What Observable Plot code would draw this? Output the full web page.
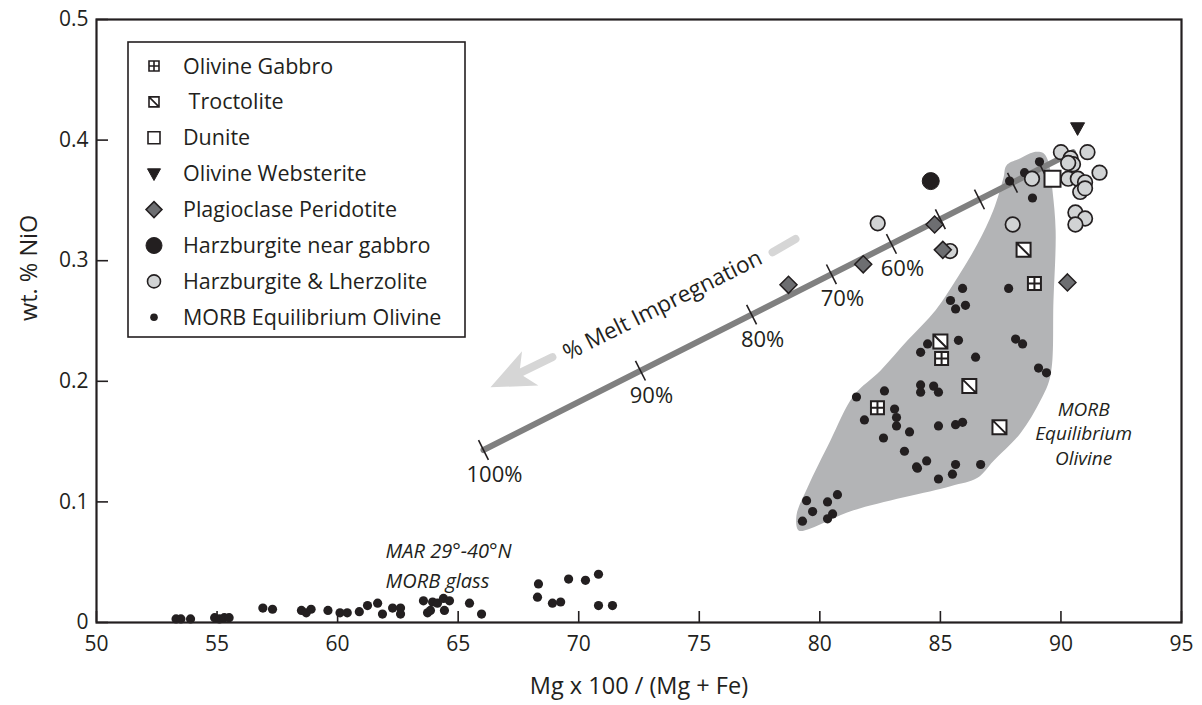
<!DOCTYPE html>
<html><head><meta charset="utf-8">
<script src="https://cdn.jsdelivr.net/npm/d3@7"></script>
<script src="https://cdn.jsdelivr.net/npm/@observablehq/plot@0.6"></script>
<style>
body{margin:0;background:#fff}
#chart{position:relative;width:1202px;height:705px}
</style>
</head><body><div id="chart"></div>
<script>
// ---------- data ----------
const xTicks = [50,55,60,65,70,75,80,85,90,95];
const yTicks = [0,0.1,0.2,0.3,0.4,0.5];

const olivineGabbro = [[88.9,0.281],[85.05,0.219],[82.39,0.178]];
const troctolite = [[88.45,0.309],[85.0,0.233],[86.2,0.196],[87.45,0.162]];
const dunite = [[89.65,0.368]];
const olivineWebsterite = [[90.69,0.410]];
const plagPeridotite = [[78.7,0.280],[81.8,0.297],[84.76,0.330],[85.1,0.309],[90.27,0.282]];
const harzNearGabbro = [[84.6,0.366]];
const harzLherz = [[90.0,0.390],[91.1,0.390],[90.4,0.385],[90.5,0.380],[90.3,0.381],[88.8,0.368],
  [90.3,0.368],[90.7,0.368],[91.6,0.373],[91.0,0.365],[90.8,0.357],[91.0,0.360],[90.6,0.340],
  [91.0,0.335],[90.6,0.330],[88.0,0.330],[82.4,0.331],[85.4,0.308]];
const morbOlivine = [[89.11,0.382],[88.49,0.373],[87.87,0.366],[88.82,0.352],[85.92,0.277],[85.42,0.267],
  [86.04,0.263],[85.63,0.260],[87.83,0.277],[84.47,0.231],[84.18,0.224],[85.75,0.234],[88.12,0.235],
  [88.41,0.231],[86.46,0.220],[89.07,0.211],[89.40,0.207],[81.52,0.187],[82.68,0.192],[84.18,0.197],
  [84.18,0.191],[84.72,0.196],[84.92,0.191],[83.1,0.177],[81.85,0.168],[83.18,0.170],[83.18,0.163],
  [83.72,0.158],[82.64,0.153],[84.92,0.163],[85.63,0.164],[85.92,0.166],[83.51,0.142],[84.01,0.129],
  [84.43,0.134],[84.05,0.128],[85.63,0.131],[85.5,0.123],[84.92,0.119],[86.67,0.131],[79.45,0.101],
  [79.70,0.092],[80.32,0.100],[80.73,0.106],[80.53,0.090],[80.32,0.086],[79.28,0.084]];
const morbGlass = [[53.3,0.003],[53.5,0.003],[53.9,0.003],[54.9,0.004],[55.1,0.003],[55.3,0.004],[55.5,0.004],
  [56.9,0.012],[57.3,0.011],[58.5,0.010],[58.7,0.008],[58.9,0.011],[59.6,0.010],[60.1,0.008],[60.4,0.008],
  [60.9,0.009],[61.24,0.014],[61.66,0.016],[61.86,0.007],[62.28,0.012],[62.61,0.012],[62.61,0.007],
  [63.56,0.018],[63.73,0.008],[63.85,0.010],[63.94,0.017],[64.14,0.016],[64.39,0.020],[64.43,0.010],
  [64.64,0.018],[65.47,0.016],[65.97,0.007],[68.29,0.021],[68.33,0.032],[68.91,0.016],[69.25,0.017],
  [69.58,0.036],[70.28,0.035],[70.82,0.040],[70.82,0.014],[71.4,0.014]];

// MORB equilibrium olivine field outline
const morbField = [[79.12,0.0763],[79.03,0.0887],[79.49,0.112],[80.44,0.151],[81.40,0.188],[82.52,0.209],
  [83.64,0.234],[84.80,0.259],[85.71,0.286],[86.54,0.314],[87.20,0.342],[87.62,0.369],[87.74,0.379],
  [88.32,0.385],[88.86,0.390],[89.28,0.389],[89.49,0.381],[89.65,0.358],[89.78,0.325],[89.69,0.267],
  [89.57,0.205],[89.15,0.184],[88.32,0.157],[87.20,0.134],[86.54,0.120],[85.42,0.113],[81.40,0.093],[79.61,0.078]];

// melt impregnation trend
const meltLine = [[66.05,0.143],[90.5,0.390]];
const meltPct = [100,90,80,70,60,50,40,30,20];
const meltX = [66.05,72.56,77.17,80.48,82.97,85.0,86.62,87.99,89.2];
const meltY = [0.143,0.2088,0.2553,0.2887,0.3139,0.3344,0.3508,0.3646,0.3768];
const meltLabeled = [100,90,80,70,60];
const arrowShaft = [[68.91,0.220],[66.9,0.2005]];
const arrowTip = [[66.34,0.195]];
const arrowDash = [[78.04,0.307],[78.99,0.318]];

const legendLabels = ["Olivine Gabbro"," Troctolite","Dunite","Olivine Websterite","Plagioclase Peridotite",
  "Harzburgite near gabbro","Harzburgite & Lherzolite","MORB Equilibrium Olivine"];

// ---------- symbols ----------
const squarePlus = {draw(c,size){const s=Math.sqrt(size)/2;c.moveTo(-s,-s);c.lineTo(s,-s);c.lineTo(s,s);c.lineTo(-s,s);c.closePath();c.moveTo(0,-s);c.lineTo(0,s);c.moveTo(-s,0);c.lineTo(s,0);}};
const squareDiag = {draw(c,size){const s=Math.sqrt(size)/2;c.moveTo(-s,-s);c.lineTo(s,-s);c.lineTo(s,s);c.lineTo(-s,s);c.closePath();c.moveTo(-s,-s);c.lineTo(s,s);}};
const squareSym = {draw(c,size){const s=Math.sqrt(size)/2;c.moveTo(-s,-s);c.lineTo(s,-s);c.lineTo(s,s);c.lineTo(-s,s);c.closePath();}};
const triDown = {draw(c,size){const s=Math.sqrt(size)/2;c.moveTo(-s,-s*0.75);c.lineTo(s,-s*0.75);c.lineTo(0,s*1.05);c.closePath();}};
const diamondSym = {draw(c,size){const s=Math.sqrt(size)/2;c.moveTo(0,-s);c.lineTo(s,0);c.lineTo(0,s);c.lineTo(-s,0);c.closePath();}};
const tickSym = {draw(c,size){const l=Math.sqrt(size)/2;c.moveTo(0,-l);c.lineTo(0,l);}};
const headSym = {draw(c,size){c.moveTo(0,0);c.lineTo(19,44);c.lineTo(0,32);c.lineTo(-19,44);c.closePath();}};

const ink = "#231f20";
const R = side => side/Math.sqrt(Math.PI); // r giving a square symbol of given side

const styles = [
  {data: olivineGabbro, symbol: squarePlus, fill:"#fff", stroke: ink, sw:2, side:13, lside:10},
  {data: troctolite, symbol: squareDiag, fill:"#fff", stroke: ink, sw:2, side:14, lside:10},
  {data: dunite, symbol: squareSym, fill:"#fff", stroke: ink, sw:2, side:16, lside:12},
  {data: olivineWebsterite, symbol: triDown, fill: ink, stroke: ink, sw:1, side:14, lside:13},
  {data: plagPeridotite, symbol: diamondSym, fill:"#6d6e71", stroke: ink, sw:1.5, side:17, lside:16},
  {data: harzNearGabbro, symbol: "circle", fill: ink, stroke: ink, sw:1, circle:8.5, lcircle:8},
  {data: harzLherz, symbol: "circle", fill:"#d1d3d4", stroke: ink, sw:1.7, circle:7.3, lcircle:6.5},
  {data: morbOlivine, symbol: "circle", fill: ink, stroke:"none", sw:0, circle:4.6, lcircle:3.8}
];

const F = "'Open Sans','Noto Sans',sans-serif";

const pointMarks = [
  Plot.dot(morbGlass, {x: d=>d[0], y: d=>d[1], r: 4.6, fill: ink, stroke: "none"}),
  ...styles.slice().reverse().map(s => Plot.dot(s.data, {
    x: d=>d[0], y: d=>d[1], symbol: s.symbol,
    r: s.circle ?? R(s.side), fill: s.fill, stroke: s.stroke, strokeWidth: s.sw
  }))
];

const svg = Plot.plot({
  width: 1202, height: 705,
  marginLeft: 96, marginRight: 21, marginTop: 19, marginBottom: 83,
  x: {domain: [50,95]},
  y: {domain: [0,0.5]},
  style: {fontFamily: F, fontSize: "21px", color: ink, background: "#fff"},
  marks: [
    Plot.line(morbField, {x: d=>d[0], y: d=>d[1], curve: "catmull-rom-closed", fill: "#b3b4b6", stroke: "none"}),
    Plot.line(meltLine, {x: d=>d[0], y: d=>d[1], stroke: "#808080", strokeWidth: 6}),
    Plot.dot(meltPct, {x: (d,i)=>meltX[i], y: (d,i)=>meltY[i], symbol: tickSym, r: 22/Math.sqrt(Math.PI), rotate: -26.8, stroke: ink, strokeWidth: 1.6, fill: "none"}),
    Plot.text(meltLabeled, {x: d=>meltX[meltPct.indexOf(d)], y: d=>meltY[meltPct.indexOf(d)], text: d=>d+"%", dx: 11, dy: 25, fontSize: 22, fill: ink}),
    Plot.line(arrowShaft, {x: d=>d[0], y: d=>d[1], stroke: "#d6d6d6", strokeWidth: 8}),
    Plot.line(arrowDash, {x: d=>d[0], y: d=>d[1], stroke: "#d6d6d6", strokeWidth: 8}),
    Plot.dot(arrowTip, {x: d=>d[0], y: d=>d[1], symbol: headSym, r: 10, rotate: -115.5, fill: "#d6d6d6", stroke: "none"}),
    Plot.text(["% Melt Impregnation"], {x: 73.48, y: 0.263, text: d=>d, rotate: -26.5, fontSize: 22.5, fill: ink}),
    Plot.text(["MORB\nEquilibrium\nOlivine"], {x: 90.94, y: 0.1575, text: d=>d, fontSize: 19, fontStyle: "italic", lineHeight: 1.3, fill: ink}),
    Plot.text(["MAR 29°-40°N\nMORB glass"], {x: 61.99, y: 0.0493, text: d=>d, textAnchor: "start", fontSize: 20, fontStyle: "italic", lineHeight: 1.5, fill: ink}),
    ...pointMarks,
    Plot.tickX(xTicks, {x: d=>d, insetTop: 603-11, stroke: ink, strokeWidth: 1.6}),
    Plot.tickY(yTicks, {y: d=>d, insetRight: 1085-12, stroke: ink, strokeWidth: 1.6}),
    Plot.axisX({ticks: xTicks, tickSize: 0, tickPadding: 14, fontSize: 21, label: null}),
    Plot.axisY({ticks: yTicks, tickSize: 0, tickPadding: 8, fontSize: 21, label: null, tickFormat: d => d === 0 ? "0" : d.toFixed(1)}),
    Plot.text(["Mg x 100 / (Mg + Fe)"], {frameAnchor: "bottom", dy: 71, text: d=>d, fontSize: 23.5, fill: ink}),
    Plot.text(["wt. % NiO"], {frameAnchor: "left", dx: -67, rotate: -90, text: d=>d, fontSize: 23.5, fill: ink}),
    Plot.frame({stroke: ink, strokeWidth: 2.2})
  ]
});

// ---------- legend (inside plot) ----------
const g = d3.select(svg).append("g").attr("font-family", F).attr("font-size", 21.5).attr("text-anchor", "start");
g.append("rect").attr("x",128).attr("y",42).attr("width",337).attr("height",295)
  .attr("fill","#fff").attr("stroke",ink).attr("stroke-width",1.6);
legendLabels.forEach((lab,i) => {
  const s = styles[i];
  const cy = 66 + i*35.9;
  const size = s.symbol === "circle" ? Math.PI*s.lcircle*s.lcircle : s.lside*s.lside;
  const type = s.symbol === "circle" ? d3.symbolCircle : s.symbol;
  g.append("path").attr("d", d3.symbol().type(type).size(size)())
    .attr("transform", `translate(154,${cy})`)
    .attr("fill", s.fill).attr("stroke", s.stroke).attr("stroke-width", Math.min(s.sw,1.6));
  g.append("text").attr("x", 183).attr("y", cy).attr("dy","0.35em").attr("fill",ink)
    .attr("text-anchor","start").style("white-space","pre").text(lab);
});

document.getElementById("chart").appendChild(svg);
</script></body></html>
